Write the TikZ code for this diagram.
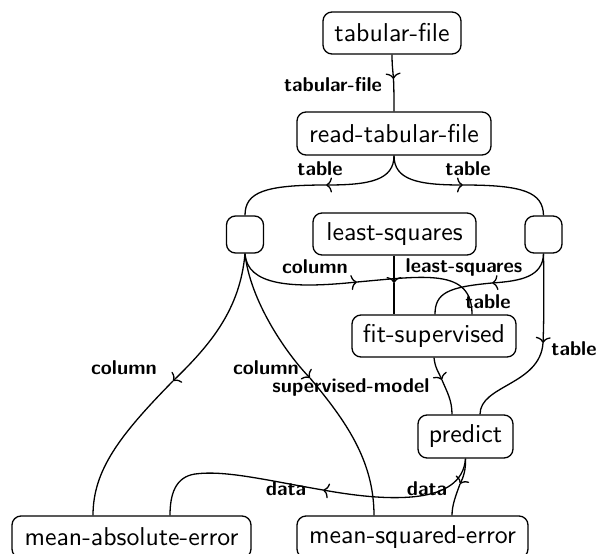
\documentclass[tikz,border=0pt]{standalone}
\usepackage{fontspec}
\setsansfont{lmsans10-regular.otf}[BoldFont=lmsans10-bold.otf]
\usetikzlibrary{arrows.meta,calc}
\begin{document}
\begin{tikzpicture}[x=1pt,y=-1pt,
 box/.style={draw,line width=1.3pt,rounded corners=9pt,inner sep=0pt,font=\fontsize{25.8}{30}\selectfont\sffamily},
 lbl/.style={font=\fontsize{20}{24}\selectfont\sffamily\bfseries,inner sep=0pt,text height=14pt,text depth=0pt},
 edge/.style={line width=1.3pt},
 arr/.style={edge,-{To[length=6pt,width=15pt]}}]
\useasboundingbox (0,0) rectangle (597,554);
\clip (0,0) rectangle (597,554);
% nodes
\node[box,minimum width=138pt,minimum height=42pt] (tf) at (392,33) {tabular-file};
\node[box,minimum width=194pt,minimum height=43pt] (rtf) at (394,133.5) {read-tabular-file};
\node[box,minimum width=37pt,minimum height=37pt] (L) at (245,234.5) {};
\node[box,minimum width=163pt,minimum height=42pt] (ls) at (394.5,234) {least-squares};
\node[box,minimum width=37pt,minimum height=37pt] (R) at (543.5,234.5) {};
\node[box,minimum width=164pt,minimum height=42pt] (fs) at (434,336) {fit-supervised};
\node[box,minimum width=95pt,minimum height=43pt] (pr) at (465.5,436.5) {predict};
\node[box,minimum width=239pt,minimum height=42pt] (mae) at (131.5,537) {mean-absolute-error};
\node[box,minimum width=231pt,minimum height=42pt] (mse) at (412.5,537) {mean-squared-error};
% labels
\node[lbl] (l1) at (333,84) {tabular-file};
\node[lbl] (l2) at (320,168) {table};
\node[lbl] (l3) at (468,168) {table};
\node[lbl] (l4) at (315,266) {column};
\node[lbl] (l5) at (464,265) {least-squares};
\node[lbl] (l6) at (488,301) {table};
\node[lbl] (l7) at (574,348) {table};
\node[lbl] (l8) at (124,367) {column};
\node[lbl] (l9) at (266,367) {column};
\node[lbl] (l10) at (351,385) {supervised-model};
\node[lbl] (l11) at (286,488) {data};
\node[lbl] (l12) at (427,488) {data};
% arrow points
\coordinate (a1) at (393.5,79);
\coordinate (b1) at (326,185);
\coordinate (b2) at (463,185);
\coordinate (c1) at (357,282);
\coordinate (c2) at (394,283);
\coordinate (c3) at (492,283);
\coordinate (c4) at (543,343);
\coordinate (c5) at (442,380);
\coordinate (c6) at (173,381);
\coordinate (c7) at (310,378);
\coordinate (c8) at (460,484);
\coordinate (c9) at (323,490);
% edges
\draw[arr] (tf.south) .. controls (392,66) and (393,72) .. (a1);
\draw[edge] (a1) .. controls (394,90) and (394,100) .. (rtf.north);
\draw[arr] (rtf.south) .. controls (394,180) and (370,185) .. (b1);
\draw[edge] (b1) .. controls (265,185) and (245,192) .. (L.north);
\draw[arr] (rtf.south) .. controls (394,180) and (418,185) .. (b2);
\draw[edge] (b2) .. controls (523,185) and (543,192) .. (R.north);
\draw[arr] (L.south) .. controls (247,285) and (290,289) .. (c1);
\draw[edge] (c1) .. controls (425,276) and (472,268) .. ([xshift=38pt]fs.north);
\draw[arr] (ls.south -| c2) -- (c2);
\draw[edge] (c2) -- (c2 |- fs.north);
\draw[arr] (R.south) .. controls (543,277) and (520,281) .. (c3);
\draw[edge] (c3) .. controls (448,287) and (435,293) .. ([xshift=1pt]fs.north);
\draw[arr] (R.south) .. controls (544,290) and (544,320) .. (c4);
\draw[edge] (c4) .. controls (540,385) and (480,385) .. ([xshift=14.5pt]pr.north);
\draw[arr] (fs.south) .. controls (435,368) and (439,373) .. (c5);
\draw[edge] (c5) .. controls (447,392) and (452,400) .. ([xshift=-13.5pt]pr.north);
\draw[arr] (L.south) .. controls (240,310) and (210,345) .. (c6);
\draw[edge] (c6) .. controls (120,435) and (93,470) .. ([xshift=-38.5pt]mae.north);
\draw[arr] (L.south) .. controls (250,300) and (285,352) .. (c7);
\draw[edge] (c7) .. controls (345,420) and (374,460) .. ([xshift=-38.5pt]mse.north);
\draw[arr] (pr.south) .. controls (466,470) and (463,478) .. (c8);
\draw[edge] (c8) .. controls (456,495) and (452,505) .. ([xshift=39.5pt]mse.north);
\draw[arr] (pr.south) .. controls (462,505) and (390,502) .. (c9);
\draw[edge] (c9) .. controls (265,480) and (225,470) .. (195,474) .. controls (175,477) and (170,495) .. ([xshift=38.5pt]mae.north);
\end{tikzpicture}
\end{document}
